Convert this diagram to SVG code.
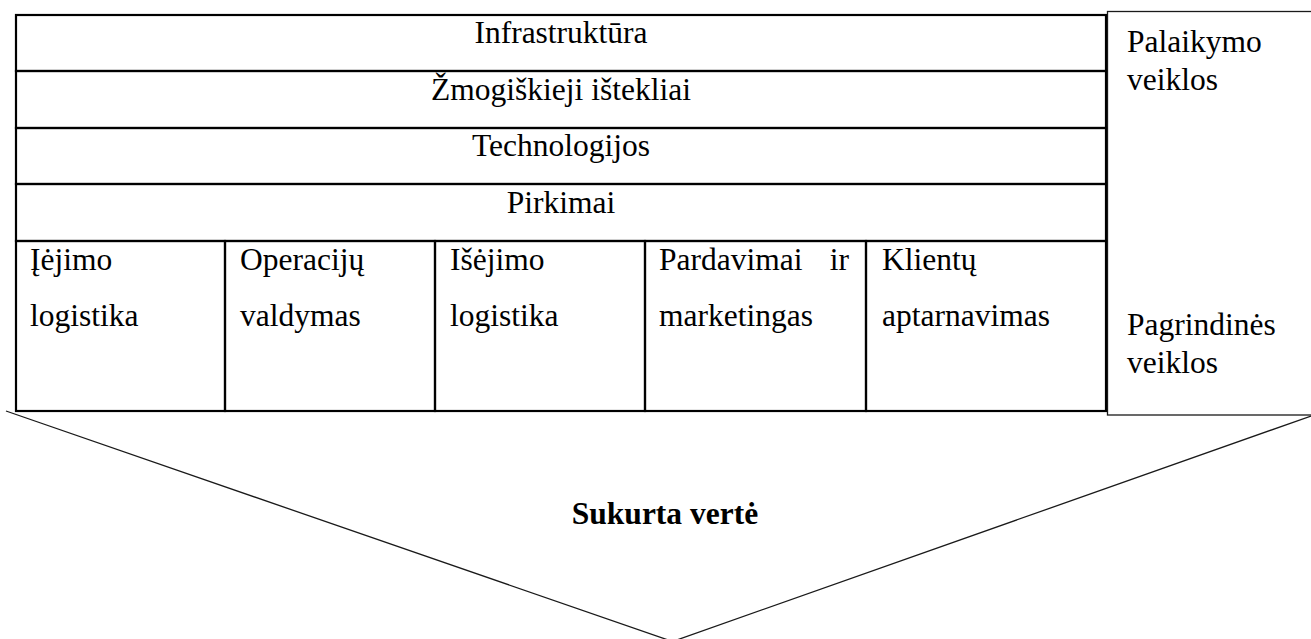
<svg xmlns="http://www.w3.org/2000/svg" width="1311" height="639" viewBox="0 0 1311 639">
  <style>
    .grid { fill: none; stroke: #000; stroke-width: 2.2; }
    .thin { fill: none; stroke: #1a1a1a; stroke-width: 1.3; }
    .t { font-family: "Liberation Serif", "Times New Roman", serif; font-size: 31.5px; fill: #000; }
    .c { text-anchor: middle; }
    .b { font-weight: bold; }
  </style>

  <!-- side legend box (drawn first, table sits over its left edge) -->
  <g id="legend">
    <rect class="thin" x="1107.5" y="11.5" width="215" height="403.5" fill="#fff"/>
    <text class="t" x="1127" y="52">Palaikymo</text>
    <text class="t" x="1127" y="90">veiklos</text>
    <text class="t" x="1127" y="335">Pagrindinės</text>
    <text class="t" x="1127" y="373">veiklos</text>
  </g>

  <!-- value arrow under the chain -->
  <g id="connectors">
    <polyline class="thin" points="6,411 672.5,641.5 1311,416"/>
  </g>

  <!-- support activity rows -->
  <g id="support-infrastructure">
    <rect class="grid" x="16" y="15" width="1090" height="56"/>
    <text class="t c" x="561" y="43">Infrastruktūra</text>
  </g>
  <g id="support-hr">
    <rect class="grid" x="16" y="71" width="1090" height="57"/>
    <text class="t c" x="561" y="100">Žmogiškieji ištekliai</text>
  </g>
  <g id="support-technology">
    <rect class="grid" x="16" y="128" width="1090" height="56"/>
    <text class="t c" x="561" y="156">Technologijos</text>
  </g>
  <g id="support-procurement">
    <rect class="grid" x="16" y="184" width="1090" height="57"/>
    <text class="t c" x="561" y="213">Pirkimai</text>
  </g>

  <!-- primary activity cells -->
  <g id="primary-inbound">
    <rect class="grid" x="16" y="241" width="209" height="170"/>
    <text class="t" x="30" y="270">Įėjimo</text>
    <text class="t" x="30" y="326">logistika</text>
  </g>
  <g id="primary-operations">
    <rect class="grid" x="225" y="241" width="210" height="170"/>
    <text class="t" x="240" y="270">Operacijų</text>
    <text class="t" x="240" y="326">valdymas</text>
  </g>
  <g id="primary-outbound">
    <rect class="grid" x="435" y="241" width="210" height="170"/>
    <text class="t" x="450" y="270">Išėjimo</text>
    <text class="t" x="450" y="326">logistika</text>
  </g>
  <g id="primary-sales">
    <rect class="grid" x="645" y="241" width="221" height="170"/>
    <text class="t" x="659" y="270">Pardavimai</text>
    <text class="t" x="849" y="270" text-anchor="end">ir</text>
    <text class="t" x="659" y="326">marketingas</text>
  </g>
  <g id="primary-service">
    <rect class="grid" x="866" y="241" width="240" height="170"/>
    <text class="t" x="882" y="270">Klientų</text>
    <text class="t" x="882" y="326">aptarnavimas</text>
  </g>

  <g id="value-label">
    <text class="t c b" x="665" y="524">Sukurta vertė</text>
  </g>
</svg>
